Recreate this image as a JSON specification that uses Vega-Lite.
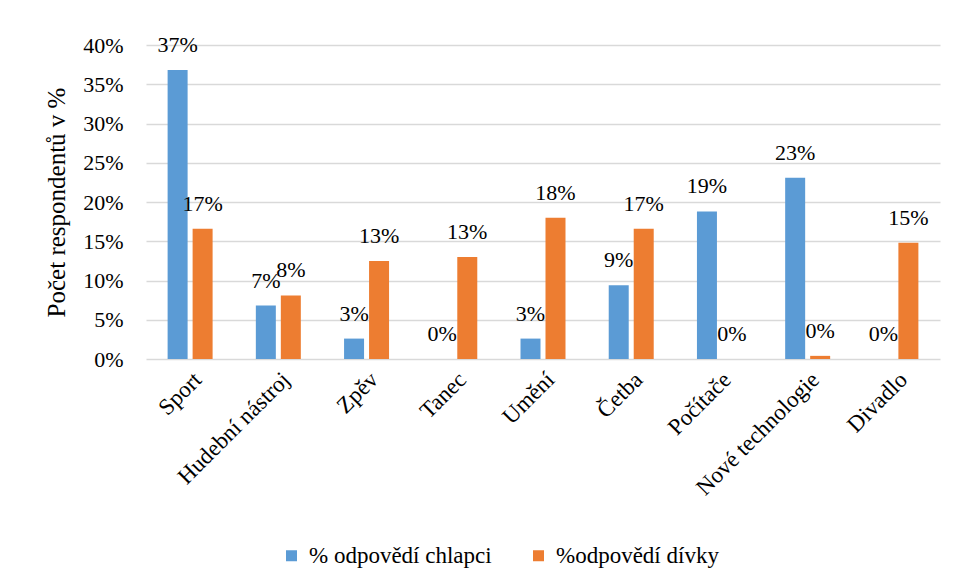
{
  "$schema": "https://vega.github.io/schema/vega-lite/v6.json",
  "width": 794,
  "height": 314,
  "autosize": "none",
  "padding": {"left": 146, "top": 45, "right": 16, "bottom": 224},
  "background": "white",
  "config": {
    "font": "Liberation Serif",
    "view": {"stroke": null},
    "text": {"font": "Liberation Serif"},
    "axis": {"labelFont": "Liberation Serif", "titleFont": "Liberation Serif", "labelColor": "#000000", "titleColor": "#000000"},
    "legend": {"labelFont": "Liberation Serif", "labelColor": "#000000"}
  },
  "data": {
    "values": [
      {"kategorie": "Sport", "skupina": "% odpovědí chlapci", "podil": 0.368},
      {"kategorie": "Sport", "skupina": "%odpovědí dívky", "podil": 0.166},
      {"kategorie": "Hudební nástroj", "skupina": "% odpovědí chlapci", "podil": 0.068},
      {"kategorie": "Hudební nástroj", "skupina": "%odpovědí dívky", "podil": 0.081},
      {"kategorie": "Zpěv", "skupina": "% odpovědí chlapci", "podil": 0.026},
      {"kategorie": "Zpěv", "skupina": "%odpovědí dívky", "podil": 0.125},
      {"kategorie": "Tanec", "skupina": "% odpovědí chlapci", "podil": 0.0},
      {"kategorie": "Tanec", "skupina": "%odpovědí dívky", "podil": 0.130},
      {"kategorie": "Umění", "skupina": "% odpovědí chlapci", "podil": 0.026},
      {"kategorie": "Umění", "skupina": "%odpovědí dívky", "podil": 0.180},
      {"kategorie": "Četba", "skupina": "% odpovědí chlapci", "podil": 0.094},
      {"kategorie": "Četba", "skupina": "%odpovědí dívky", "podil": 0.166},
      {"kategorie": "Počítače", "skupina": "% odpovědí chlapci", "podil": 0.188},
      {"kategorie": "Počítače", "skupina": "%odpovědí dívky", "podil": 0.0},
      {"kategorie": "Nové technologie", "skupina": "% odpovědí chlapci", "podil": 0.231},
      {"kategorie": "Nové technologie", "skupina": "%odpovědí dívky", "podil": 0.004},
      {"kategorie": "Divadlo", "skupina": "% odpovědí chlapci", "podil": 0.0},
      {"kategorie": "Divadlo", "skupina": "%odpovědí dívky", "podil": 0.148}
    ]
  },
  "encoding": {
    "x": {
      "field": "kategorie",
      "type": "nominal",
      "sort": null,
      "scale": {"paddingInner": 0.49, "paddingOuter": 0.245},
      "axis": {"title": null, "labelAngle": -45, "labelFontSize": 23, "labelFont": "Liberation Serif", "labelLimit": 300, "domain": false, "ticks": false, "labelPadding": 9}
    },
    "xOffset": {
      "field": "skupina",
      "type": "nominal",
      "sort": null,
      "scale": {"paddingInner": 0.2, "paddingOuter": 0}
    },
    "y": {
      "field": "podil",
      "type": "quantitative",
      "scale": {"domain": [0, 0.4]},
      "axis": {
        "title": "Počet respondentů v %",
        "titleFont": "Liberation Serif",
        "titleFontSize": 25,
        "titleFontWeight": "normal",
        "titlePadding": 13,
        "format": ".0%",
        "values": [0, 0.05, 0.1, 0.15, 0.2, 0.25, 0.3, 0.35, 0.4],
        "labelFont": "Liberation Serif",
        "labelFontSize": 22,
        "labelPadding": 23,
        "domain": false,
        "ticks": false,
        "gridColor": "#d9d9d9",
        "gridWidth": 1.5
      }
    }
  },
  "layer": [
    {
      "mark": {"type": "bar"},
      "encoding": {
        "color": {
          "field": "skupina",
          "type": "nominal",
          "scale": {"domain": ["% odpovědí chlapci", "%odpovědí dívky"], "range": ["#5B9BD5", "#ED7D31"]},
          "legend": {
            "title": null,
            "orient": "none",
            "direction": "horizontal",
            "legendX": 134,
            "legendY": 499,
            "labelFont": "Liberation Serif",
            "labelFontSize": 23,
            "labelLimit": 400,
            "symbolType": "square",
            "symbolSize": 121,
            "symbolStrokeWidth": 0,
            "labelOffset": 6,
            "columnPadding": 35,
            "padding": 0
          }
        }
      }
    },
    {
      "mark": {"type": "text", "font": "Liberation Serif", "baseline": "alphabetic", "dy": -18, "fontSize": 22, "color": "#000000"},
      "encoding": {
        "text": {"field": "podil", "type": "quantitative", "format": ".0%"}
      }
    }
  ]
}
